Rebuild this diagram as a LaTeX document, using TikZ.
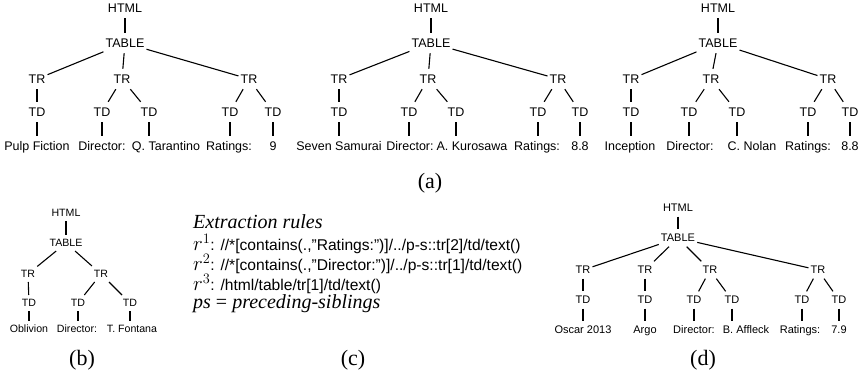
\documentclass[tikz,border=0pt]{standalone}
\usepackage{fontspec}
\setmainfont{Liberation Serif}
\setsansfont{Liberation Sans}
\newcommand\treefA{\fontsize{12.5}{14}\selectfont\sffamily}
\newcommand\treefB{\fontsize{10.6}{12}\selectfont\sffamily}
\newcommand\treefD{\fontsize{11}{13}\selectfont\sffamily}
\tikzset{
  tA/.style={inner xsep=2pt, inner ysep=5.5pt, text height=9pt, text depth=0pt, font=\treefA},
  tB/.style={inner xsep=2pt, inner ysep=4pt, text height=7.6pt, text depth=0pt, font=\treefB},
  tD/.style={inner xsep=2pt, inner ysep=4.5pt, text height=7.9pt, text depth=0pt, font=\treefD},
  edge/.style={draw=black, line width=1.1pt},
  lab/.style={font=\fontsize{22}{24}\selectfont\rmfamily, inner sep=0pt},
  rulet/.style={anchor=west, inner sep=0pt, font=\fontsize{15.6}{18}\selectfont\sffamily},
  ruleh/.style={anchor=west, inner sep=0pt, font=\fontsize{20}{22}\selectfont\rmfamily\itshape}
}
\newcommand\rr[1]{{\rmfamily\fontsize{22}{22}\selectfont$r^{#1}$}}
\begin{document}
\begin{tikzpicture}[x=1pt,y=-1pt]
\useasboundingbox (0,0) rectangle (860,377);
% ---------- tree a1
\begin{scope}[every node/.style={tA}]
\node (a1h) at (125,8) {HTML};
\node (a1t) at (125,43) {TABLE};
\node (a1r1) at (37,79) {TR};
\node (a1r2) at (122,79) {TR};
\node (a1r3) at (249,79) {TR};
\node (a1d1) at (37,112) {TD};
\node (a1d2) at (102,112) {TD};
\node (a1d3) at (149,112) {TD};
\node (a1d4) at (230,112) {TD};
\node (a1d5) at (273,112) {TD};
\node (a1l1) at (37,146) {Pulp Fiction};
\node (a1l2) at (102,146) {Director:};
\node (a1l3) at (166,146) {Q. Tarantino};
\node (a1l4) at (229,146) {Ratings:};
\node (a1l5) at (273,146) {9};
% ---------- tree a2
\node (a2h) at (431,8) {HTML};
\node (a2t) at (431,43) {TABLE};
\node (a2r1) at (339,79) {TR};
\node (a2r2) at (428,79) {TR};
\node (a2r3) at (558,79) {TR};
\node (a2d1) at (339,112) {TD};
\node (a2d2) at (409,112) {TD};
\node (a2d3) at (456,112) {TD};
\node (a2d4) at (538,112) {TD};
\node (a2d5) at (580,112) {TD};
\node (a2l1) at (339,146) {Seven Samurai};
\node (a2l2) at (410,146) {Director:};
\node (a2l3) at (472,146) {A. Kurosawa};
\node (a2l4) at (537,146) {Ratings:};
\node (a2l5) at (580,146) {8.8};
% ---------- tree a3
\node (a3h) at (718,8) {HTML};
\node (a3t) at (718,43) {TABLE};
\node (a3r1) at (631,79) {TR};
\node (a3r2) at (711,79) {TR};
\node (a3r3) at (828,79) {TR};
\node (a3d1) at (631,112) {TD};
\node (a3d2) at (689,112) {TD};
\node (a3d3) at (737,112) {TD};
\node (a3d4) at (808,112) {TD};
\node (a3d5) at (850,112) {TD};
\node (a3l1) at (630,146) {Inception};
\node (a3l2) at (690,146) {Director:};
\node (a3l3) at (752,146) {C. Nolan};
\node (a3l4) at (808,146) {Ratings:};
\node (a3l5) at (850,146) {8.8};
\end{scope}
\foreach \t in {a1,a2,a3}{
  \draw[edge] (\t h) -- (\t t);
  \draw[edge] (\t t) -- (\t r1);
  \draw[edge] (\t t) -- (\t r2);
  \draw[edge] (\t t) -- (\t r3);
  \draw[edge] (\t r1) -- (\t d1);
  \draw[edge] (\t r2) -- (\t d2);
  \draw[edge] (\t r2) -- (\t d3);
  \draw[edge] (\t r3) -- (\t d4);
  \draw[edge] (\t r3) -- (\t d5);
  \foreach \i in {1,...,5}{\draw[edge] (\t d\i) -- (\t d\i |- \t l\i.north);}
}
\node[lab] (la) at (430,183) {(a)};
% ---------- tree b
\begin{scope}[every node/.style={tB}]
\node (bh) at (66,213) {HTML};
\node (bt) at (66,243) {TABLE};
\node (br1) at (28,274) {TR};
\node (br2) at (101,274) {TR};
\node (bd1) at (29,303) {TD};
\node (bd2) at (78,303) {TD};
\node (bd3) at (130,303) {TD};
\node (bl1) at (29,329) {Oblivion};
\node (bl2) at (77,329) {Director:};
\node (bl3) at (132,329) {T. Fontana};
\end{scope}
\draw[edge] (bh) -- (bt);
\draw[edge] (bt) -- (br1);
\draw[edge] (bt) -- (br2);
\draw[edge] (br1) -- (bd1);
\draw[edge] (br2) -- (bd2);
\draw[edge] (br2) -- (bd3);
\foreach \i in {1,2,3}{\draw[edge] (bd\i) -- (bd\i |- bl\i.north);}
\node[lab] (lb) at (82,360) {(b)};
% ---------- rules c
\node[ruleh] (ch) at (193,222) {Extraction rules};
\node[rulet] (c1) at (193,244) {\rr{1}: //*[contains(.,”Ratings:”)]/../p-s::tr[2]/td/text()};
\node[rulet] (c2) at (193,264) {\rr{2}: //*[contains(.,”Director:”)]/../p-s::tr[1]/td/text()};
\node[rulet] (c3) at (193,284) {\rr{3}: /html/table/tr[1]/td/text()};
\node[ruleh] (c4) at (193,304) {ps {\upshape=} preceding-siblings};
\node[lab] (lc) at (353,360) {(c)};
% ---------- tree d
\begin{scope}[every node/.style={tD}]
\node (dh) at (678,208) {HTML};
\node (dt) at (678,238) {TABLE};
\node (dr1) at (583,270) {TR};
\node (dr2) at (645,270) {TR};
\node (dr3) at (710,270) {TR};
\node (dr4) at (818,270) {TR};
\node (dd1) at (583,300) {TD};
\node (dd2) at (645,300) {TD};
\node (dd3) at (694,300) {TD};
\node (dd4) at (732,300) {TD};
\node (dd5) at (802,300) {TD};
\node (dd6) at (839,300) {TD};
\node (dl1) at (583,330) {Oscar 2013};
\node (dl2) at (645,330) {Argo};
\node (dl3) at (694,330) {Director:};
\node (dl4) at (746,330) {B. Affleck};
\node (dl5) at (800,330) {Ratings:};
\node (dl6) at (839,330) {7.9};
\end{scope}
\draw[edge] (dh) -- (dt);
\draw[edge] (dt) -- (dr1);
\draw[edge] (dt) -- (dr2);
\draw[edge] (dt) -- (dr3);
\draw[edge] (dt) -- (dr4);
\draw[edge] (dr1) -- (dd1);
\draw[edge] (dr2) -- (dd2);
\draw[edge] (dr3) -- (dd3);
\draw[edge] (dr3) -- (dd4);
\draw[edge] (dr4) -- (dd5);
\draw[edge] (dr4) -- (dd6);
\foreach \i in {1,...,6}{\draw[edge] (dd\i) -- (dd\i |- dl\i.north);}
\node[lab] (ld) at (703,360) {(d)};
\end{tikzpicture}
\end{document}
